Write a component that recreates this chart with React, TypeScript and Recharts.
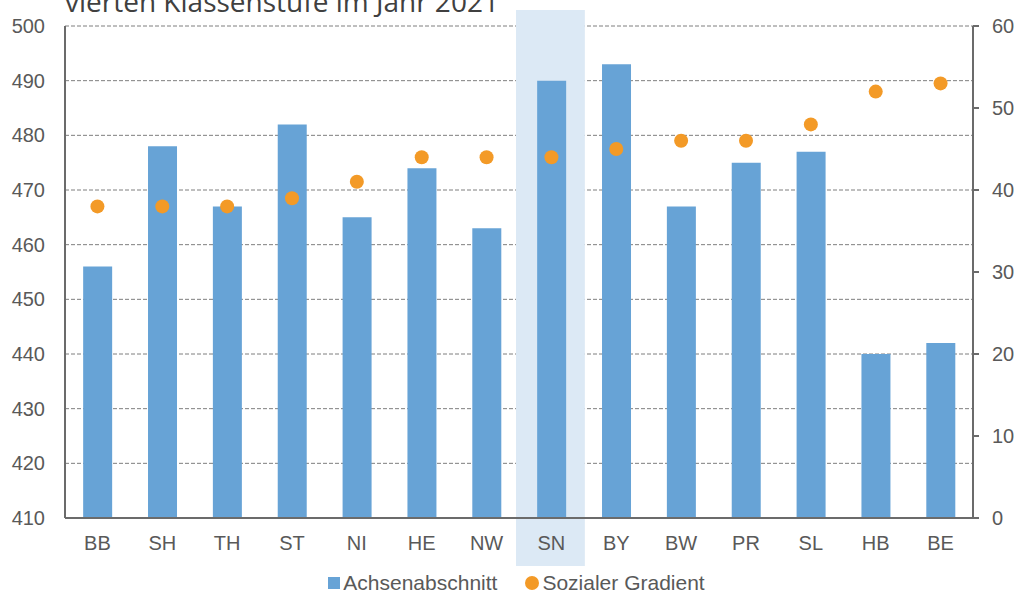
import { ComposedChart, Bar, Line, XAxis, YAxis, CartesianGrid, Legend, ReferenceArea } from 'recharts';

const laender = ['BB', 'SH', 'TH', 'ST', 'NI', 'HE', 'NW', 'SN', 'BY', 'BW', 'PR', 'SL', 'HB', 'BE'];
const achsenabschnitt = [456, 478, 467, 482, 465, 474, 463, 490, 493, 467, 475, 477, 440, 442];
const sozialerGradient = [38, 38, 38, 39, 41, 44, 44, 44, 45, 46, 46, 48, 52, 53];
const leftTicks = [410, 420, 430, 440, 450, 460, 470, 480, 490, 500];
const rightTicks = [0, 10, 20, 30, 40, 50, 60];

const data = laender.map((name, i) => ({
  name,
  achse: achsenabschnitt[i],
  gradient: sozialerGradient[i],
}));

const BLUE = '#67A3D6';
const ORANGE = '#F39A27';
const HIGHLIGHT = '#DCE9F5';
const TEXT = '#595959';
const AXIS = '#6b6b6b';
const FONT = '"Liberation Sans", Arial, sans-serif';

function LegendContent() {
  return (
    <div style={{ display: 'flex', justifyContent: 'center', alignItems: 'center', fontFamily: FONT, fontSize: 21, color: TEXT, paddingTop: 5, paddingLeft: 14 }}>
      <span style={{ display: 'inline-block', width: 12, height: 12, background: BLUE, marginRight: 3 }} />
      <span style={{ marginRight: 28 }}>Achsenabschnitt</span>
      <span style={{ display: 'inline-block', width: 14, height: 14, borderRadius: 7, background: ORANGE, marginRight: 3 }} />
      <span>Sozialer Gradient</span>
    </div>
  );
}

export default function App() {
  return (
    <div style={{ position: 'absolute', left: 0, top: 0, width: 1019, height: 594, background: '#fff' }}>
      <ComposedChart width={1019} height={594} data={data} margin={{ top: 26, right: 0, left: 0, bottom: 0 }} barCategoryGap="28%">
        <ReferenceArea
          yAxisId="left"
          x1="SN"
          x2="SN"
          ifOverflow="visible"
          shape={(p: any) => <rect x={p.x - 3} y={p.y - 16} width={p.width + 4} height={p.height + 64} fill={HIGHLIGHT} />}
        />
        <CartesianGrid yAxisId="left" vertical={false} stroke="#7f7f7f" strokeDasharray="4 2" />
        <XAxis
          dataKey="name"
          height={48}
          tickLine={false}
          tickSize={0}
          tickMargin={18}
          axisLine={{ stroke: AXIS, strokeWidth: 2 }}
          tick={{ fill: TEXT, fontSize: 20, fontFamily: FONT }}
          interval={0}
        />
        <YAxis
          yAxisId="left"
          width={65}
          domain={[410, 500]}
          ticks={leftTicks}
          tickLine={false}
          tickSize={0}
          tickMargin={20}
          axisLine={{ stroke: AXIS, strokeWidth: 2 }}
          tick={{ fill: TEXT, fontSize: 20, fontFamily: FONT }}
        />
        <YAxis
          yAxisId="right"
          orientation="right"
          width={46}
          domain={[0, 60]}
          ticks={rightTicks}
          tickSize={6}
          tickMargin={13}
          tickLine={{ stroke: AXIS, strokeWidth: 2 }}
          axisLine={{ stroke: AXIS, strokeWidth: 2 }}
          tick={{ fill: TEXT, fontSize: 20, fontFamily: FONT, textAnchor: 'start' }}
        />
        <Bar yAxisId="left" dataKey="achse" fill={BLUE} isAnimationActive={false} />
        <Line
          yAxisId="right"
          dataKey="gradient"
          stroke="none"
          isAnimationActive={false}
          dot={(p: any) => <circle key={p.index} cx={p.cx} cy={p.cy} r={7} fill={ORANGE} />}
          activeDot={false}
        />
        <Legend verticalAlign="bottom" height={28} content={<LegendContent />} />
      </ComposedChart>
      <svg width={1019} height={30} style={{ position: 'absolute', left: 0, top: 0 }}>
        <text x={65} y={12} fontFamily='"Open Sans", sans-serif' fontSize={28} fill="#404040">
          vierten Klassenstufe im Jahr 2021
        </text>
      </svg>
    </div>
  );
}
